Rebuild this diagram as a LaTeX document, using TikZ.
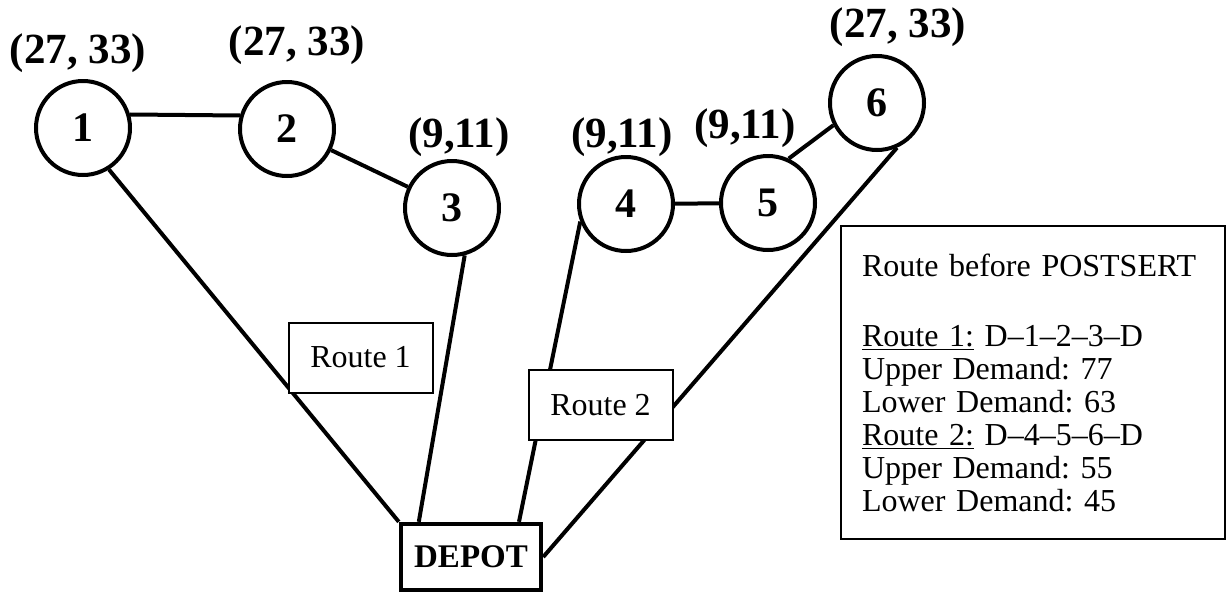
\documentclass[tikz,border=0pt]{standalone}
\usepackage{fontspec}
\setmainfont{Liberation Serif}
\frenchspacing

\begin{document}
\begin{tikzpicture}[x=0.5pt, y=0.5pt,
  stop/.style={
    circle, draw, line width=2pt,
    minimum size=47pt, inner sep=0pt,
    font=\fontsize{21}{22}\selectfont\bfseries
  },
  demand/.style={anchor=base, font=\fontsize{21.5}{23}\selectfont\bfseries},
  routetag/.style={
    rectangle, draw, fill=white, line width=1pt,
    minimum width=72pt, minimum height=35pt,
    font=\fontsize{16}{18}\selectfont
  },
  link/.style={line width=2pt}
]
\useasboundingbox (0,0) rectangle (1230,-595);

\node[stop] (n1) at (83,-128)  {1};
\node[stop] (n2) at (287,-129) {2};
\node[stop] (n3) at (452,-208) {3};
\node[stop] (n4) at (626,-204) {4};
\node[stop] (n5) at (768,-203) {5};
\node[stop] (n6) at (877,-103) {6};

\node[draw, line width=2.2pt, minimum width=70pt, minimum height=33pt, inner sep=0pt,
      font=\fontsize{16.5}{18}\selectfont\bfseries] (depot) at (471,-557) {DEPOT};

\node[demand] (d1) at (78,-63)   {(27, 33)};
\node[demand] (d2) at (297,-55)  {(27, 33)};
\node[demand] (d3) at (459,-147) {(9,11)};
\node[demand] (d4) at (622,-147) {(9,11)};
\node[demand] (d5) at (745,-138) {(9,11)};
\node[demand] (d6) at (898,-37)  {(27, 33)};

\draw[link] (n1.16) -- (n2.164);
\draw[link] (n2) -- (n3);
\draw[link] (n4) -- (n5);
\draw[link] (n5.65) -- (n6.207);

\draw[link] (n1.-58) -- (depot.north west);
\draw[link] (n3.-75) -- ([xshift=10pt]depot.north west);
\draw[link] (n4.201) -- ([xshift=24pt]depot.north);
\draw[link] (n6.-66) -- (depot.east);

\node[routetag] (r1) at (360.5,-357.5) {Route 1};
\node[routetag] (r2) at (600.5,-405)   {Route 2};

\node[draw, line width=1pt, anchor=north west, align=left,
      text width=171pt, inner xsep=10.5pt, minimum height=156.5pt,
      font=\fontsize{16}{16.5}\selectfont] (summary) at (840,-225)
  {Route before POSTSERT\\[18.5pt]
   \underline{Route 1:} D--1--2--3--D\\
   Upper Demand: 77\\
   Lower Demand: 63\\
   \underline{Route 2:} D--4--5--6--D\\
   Upper Demand: 55\\
   Lower Demand: 45};
\end{tikzpicture}
\end{document}
